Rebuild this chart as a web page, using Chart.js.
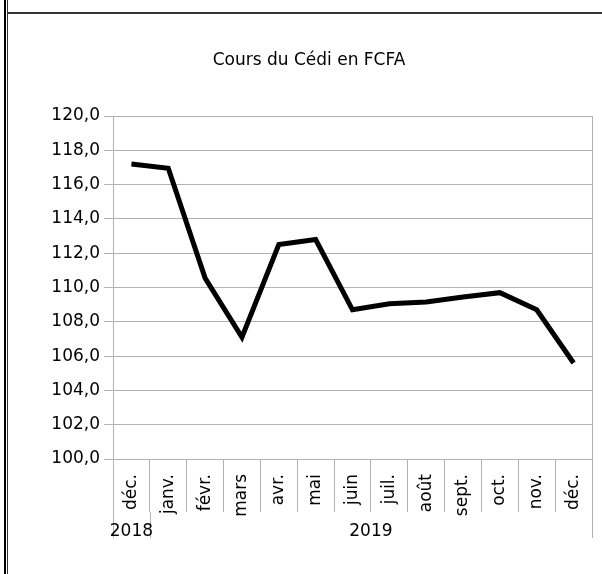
<!DOCTYPE html>
<html>
<head>
<meta charset="utf-8">
<script src="https://cdn.jsdelivr.net/npm/chart.js@4/dist/chart.umd.min.js"></script>
<style>
html, body { margin: 0; padding: 0; background: #fff; }
</style>
</head>
<body>
<canvas id="chart" width="602" height="574"></canvas>
<script>
// Data
const months = ['déc.', 'janv.', 'févr.', 'mars', 'avr.', 'mai', 'juin', 'juil.', 'août', 'sept.', 'oct.', 'nov.', 'déc.'];
const rates = [117.2, 116.95, 110.55, 107.1, 112.5, 112.8, 108.7, 109.05, 109.15, 109.45, 109.7, 108.7, 105.6];
const years = ['2018', '2019'];
const yearStarts = [0, 1]; // index of first month of each year
const yMin = 100, yMax = 120, yStep = 2;

const FONT = 'DejaVu Sans';
const GRID = '#b3b3b3';

// Outer frame + year row
const framePlugin = {
    id: 'frame',
    beforeDraw(chart) {
        const ctx = chart.ctx;
        ctx.save();
        ctx.fillStyle = '#fff';
        ctx.fillRect(0, 0, chart.width, chart.height);
        ctx.fillStyle = '#000';
        ctx.fillRect(4, 0, 2, chart.height);
        ctx.fillStyle = '#333';
        ctx.fillRect(7, 0, 1, chart.height);
        ctx.fillRect(7, 12, chart.width - 7, 2);
        ctx.restore();
    },
    afterDraw(chart) {
        const ctx = chart.ctx;
        const area = chart.chartArea;
        const x = chart.scales.x;
        const step = (x.right - x.left) / months.length;
        const tickBottom = area.bottom + 53;
        ctx.save();
        ctx.strokeStyle = GRID;
        ctx.lineWidth = 1;
        // right edge of plot
        ctx.beginPath();
        ctx.moveTo(Math.round(area.right) + 0.5, area.top);
        ctx.lineTo(Math.round(area.right) + 0.5, area.bottom);
        ctx.stroke();
        // year separators and labels
        const bounds = yearStarts.concat([months.length]);
        ctx.beginPath();
        bounds.forEach(i => {
            const px = Math.round(x.left + i * step) + 0.5;
            ctx.moveTo(px, tickBottom);
            ctx.lineTo(px, tickBottom + 26);
        });
        ctx.stroke();
        ctx.fillStyle = '#000';
        ctx.font = '17px "' + FONT + '"';
        ctx.textAlign = 'center';
        ctx.textBaseline = 'middle';
        years.forEach((y, k) => {
            const a = x.left + bounds[k] * step;
            const b = x.left + bounds[k + 1] * step;
            ctx.fillText(y, (a + b) / 2, area.bottom + 73);
        });
        ctx.restore();
    }
};

new Chart(document.getElementById('chart'), {
    type: 'line',
    data: {
        labels: months,
        datasets: [{
            label: 'Cours',
            data: rates,
            borderColor: '#000',
            borderWidth: 5,
            pointRadius: 0,
            tension: 0,
            fill: false,
            borderJoinStyle: 'miter'
        }]
    },
    options: {
        responsive: false,
        animation: false,
        layout: { padding: { left: 26, right: 10, top: 0, bottom: 0 } },
        plugins: {
            legend: { display: false },
            tooltip: { enabled: false },
            title: {
                display: true,
                text: 'Cours du Cédi en FCFA',
                color: '#000',
                font: { family: FONT, size: 17, weight: 'normal' },
                padding: { top: 50, bottom: 45.6 }
            }
        },
        scales: {
            x: {
                offset: true,
                grid: { offset: true, drawOnChartArea: false, tickLength: 53, color: GRID },
                border: { color: GRID },
                ticks: {
                    autoSkip: false,
                    minRotation: 90,
                    maxRotation: 90,
                    padding: -38,
                    color: '#000',
                    font: { family: FONT, size: 17 }
                },
                afterFit: s => { s.height = 115; }
            },
            y: {
                min: yMin,
                max: yMax,
                grid: { color: GRID, tickLength: 9 },
                border: { color: GRID },
                ticks: {
                    stepSize: yStep,
                    padding: 4,
                    color: '#000',
                    font: { family: FONT, size: 17 },
                    callback: v => v.toFixed(1).replace('.', ',')
                },
                afterFit: s => { s.width = 87; }
            }
        }
    },
    plugins: [framePlugin]
});
</script>
</body>
</html>
